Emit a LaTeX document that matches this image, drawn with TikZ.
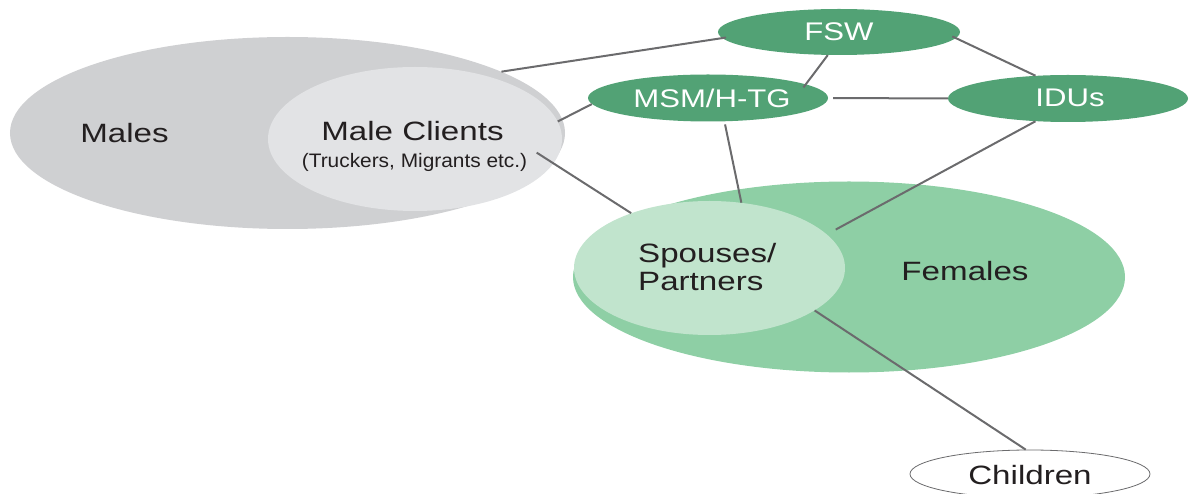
\documentclass[tikz,border=0pt]{standalone}
\usepackage{fontspec}
\setmainfont{Liberation Sans}
\newfontfamily\bigfnt[FakeStretch=1.25]{Liberation Sans}
\newfontfamily\whtfnt[FakeStretch=1.22]{Liberation Sans}
\newfontfamily\smlfnt[FakeStretch=1.07]{Liberation Sans}
\usetikzlibrary{shapes.geometric}
\definecolor{malegray}{HTML}{CFD0D2}
\definecolor{clientgray}{HTML}{E2E3E5}
\definecolor{femgreen}{HTML}{8ECFA5}
\definecolor{spgreen}{HTML}{C1E4CD}
\definecolor{darkgreen}{HTML}{52A275}
\definecolor{linegray}{HTML}{6B6B6D}
\definecolor{txt}{HTML}{231F20}
\begin{document}
\begin{tikzpicture}[x=1bp,y=-1bp,
  oval/.style={ellipse, inner sep=0pt, draw=none},
  conn/.style={draw=linegray, line width=2bp},
  bigtext/.style={inner sep=0pt, anchor=base, text=txt, font=\bigfnt\fontsize{26.5bp}{28bp}\selectfont},
  whitetext/.style={inner sep=0pt, anchor=base, text=white, font=\whtfnt\fontsize{25.5bp}{28bp}\selectfont},
  smalltext/.style={inner sep=0pt, anchor=base, text=txt, font=\smlfnt\fontsize{19.5bp}{22bp}\selectfont}]
\useasboundingbox (0,0) rectangle (1189,494);
% shapes
\node[oval, fill=malegray, minimum width=555bp, minimum height=192bp] (males) at (287.5,133) {};
\node[oval, fill=clientgray, minimum width=294bp, minimum height=144bp] (clients) at (415,139) {};
\node[oval, fill=femgreen, minimum width=552bp, minimum height=191bp] (females) at (849,277) {};
\node[oval, fill=spgreen, minimum width=271bp, minimum height=134bp] (spouses) at (709.5,268) {};
\node[oval, fill=darkgreen, minimum width=242bp, minimum height=46bp] (fsw) at (839,32) {};
\node[oval, fill=darkgreen, minimum width=240bp, minimum height=47bp] (msm) at (708,98) {};
\node[oval, fill=darkgreen, minimum width=240bp, minimum height=47bp] (idus) at (1068,98.5) {};
\node[oval, fill=white, draw=linegray, line width=0.8bp, minimum width=240bp, minimum height=48bp] (children) at (1030,474) {};
% connectors
\draw[conn, shorten >=-4bp] (males.16) -- (fsw.183);
\draw[conn, shorten >=-4bp] (fsw.-116) -- (msm.8);
\draw[conn, shorten <=-4bp] (fsw.-3) -- (idus.145);
\draw[conn, shorten <=5bp] (msm.east) -- (idus.west);
\draw[conn] (clients.7) -- (msm.183);
\draw[conn, shorten <=-20bp] (clients.-10.7) -- (spouses.145);
\draw[conn, shorten <=3bp] (msm.-55) -- (spouses.64);
\draw[conn, shorten >=10bp] (idus.215) -- (spouses.16);
\draw[conn] (spouses.-22) -- (children.100);
% texts
\node[bigtext] (tmales) at (124.5,143) {Males};
\node[bigtext] (tclients) at (412.5,141) {Male Clients};
\node[smalltext] (tclients2) at (414.5,168) {(Truckers, Migrants etc.)};
\node[bigtext, anchor=base west, align=left] (tspouses) at (638,291) {Spouses/\\Partners};
\node[bigtext] (tfemales) at (965,281) {Females};
\node[whitetext] (tfsw) at (839,41) {FSW};
\node[whitetext] (tmsm) at (712,108) {MSM/H-TG};
\node[whitetext] (tidus) at (1070,107) {IDUs};
\node[bigtext] (tchildren) at (1030,484) {Children};
\end{tikzpicture}
\end{document}
